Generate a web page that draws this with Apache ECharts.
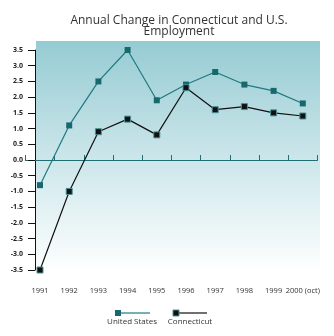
<!DOCTYPE html>
<html>
<head>
<meta charset="utf-8">
<script src="https://cdn.jsdelivr.net/npm/echarts@6/dist/echarts.min.js"></script>
<style>
  html, body { margin: 0; padding: 0; background: #fff; }
  #chart { width: 334px; height: 336px; }
</style>
</head>
<body>
<div id="chart"></div>
<script>
var years = ['1991', '1992', '1993', '1994', '1995', '1996', '1997', '1998', '1999', '2000 (oct)'];
var usValues = [-0.8, 1.1, 2.5, 3.5, 1.9, 2.4, 2.8, 2.4, 2.2, 1.8];
var ctValues = [-3.5, -1.0, 0.9, 1.3, 0.8, 2.3, 1.6, 1.7, 1.5, 1.4];

var chart = echarts.init(document.getElementById('chart'));
var font = 'Open Sans';

chart.setOption({
    animation: false,
    title: {
        text: 'Annual Change in Connecticut and U.S.\nEmployment',
        left: 174,
        top: 10,
        textAlign: 'center',
        textStyle: {
            fontFamily: font,
            fontSize: 12,
            fontWeight: 'normal',
            color: '#333',
            lineHeight: 11
        }
    },
    graphic: [
        {
            type: 'rect',
            z: -10,
            shape: { x: 36, y: 41, width: 284, height: 232 },
            style: {
                fill: new echarts.graphic.LinearGradient(0, 0, 0, 1, [
                    { offset: 0, color: '#96cbd3' },
                    { offset: 0.5, color: '#cbe6ea' },
                    { offset: 1, color: '#ffffff' }
                ])
            }
        },
        // legend
        { type: 'line', shape: { x1: 118, y1: 313, x2: 150, y2: 313 }, style: { stroke: '#1f7a80', lineWidth: 1.2 } },
        { type: 'rect', shape: { x: 115, y: 310, width: 6, height: 6 }, style: { fill: '#17696e' } },
        { type: 'text', style: { text: 'United States', x: 132, y: 322, align: 'center', verticalAlign: 'middle', font: '8px "Open Sans"', fill: '#333' } },
        { type: 'line', shape: { x1: 176, y1: 313, x2: 207, y2: 313 }, style: { stroke: '#111', lineWidth: 1.2 } },
        { type: 'rect', shape: { x: 173, y: 310, width: 6, height: 6 }, style: { fill: '#111', stroke: '#4a8f94', lineWidth: 1 } },
        { type: 'text', style: { text: 'Connecticut', x: 190, y: 322, align: 'center', verticalAlign: 'middle', font: '8px "Open Sans"', fill: '#333' } }
    ],
    grid: {
        left: 25.4,
        width: 292,
        top: 50,
        height: 220
    },
    xAxis: [
        {
            type: 'category',
            data: years,
            boundaryGap: true,
            axisLine: { onZero: true, lineStyle: { color: '#1f6f74', width: 1.2 } },
            axisTick: { show: true, inside: true, interval: 0, length: 5, lineStyle: { color: '#1f6f74' } },
            axisLabel: { show: false },
            splitLine: { show: false }
        },
        {
            type: 'category',
            data: years,
            position: 'bottom',
            boundaryGap: true,
            axisLine: { show: false },
            axisTick: { show: false },
            axisLabel: {
                interval: 0,
                hideOverlap: false,
                margin: 17,
                fontFamily: font,
                fontSize: 7.5,
                color: '#333'
            }
        }
    ],
    yAxis: {
        type: 'value',
        min: -3.5,
        max: 3.5,
        interval: 0.5,
        offset: -9.6,
        axisLine: { show: true, lineStyle: { color: '#111', width: 1 } },
        axisTick: { show: true, length: 7, lineStyle: { color: '#111' } },
        axisLabel: {
            margin: 12,
            fontFamily: font,
            fontSize: 7,
            fontWeight: 'bold',
            color: '#222',
            formatter: function (v) { return v.toFixed(1); }
        },
        splitLine: { show: false }
    },
    series: [
        {
            name: 'United States',
            type: 'line',
            data: usValues,
            symbol: 'rect',
            symbolSize: 6,
            lineStyle: { color: '#1f7a80', width: 1.2 },
            itemStyle: { color: '#17696e' }
        },
        {
            name: 'Connecticut',
            type: 'line',
            data: ctValues,
            symbol: 'rect',
            symbolSize: 6,
            lineStyle: { color: '#111', width: 1.2 },
            itemStyle: { color: '#111', borderColor: '#4a8f94', borderWidth: 1 }
        }
    ]
});
</script>
</body>
</html>
